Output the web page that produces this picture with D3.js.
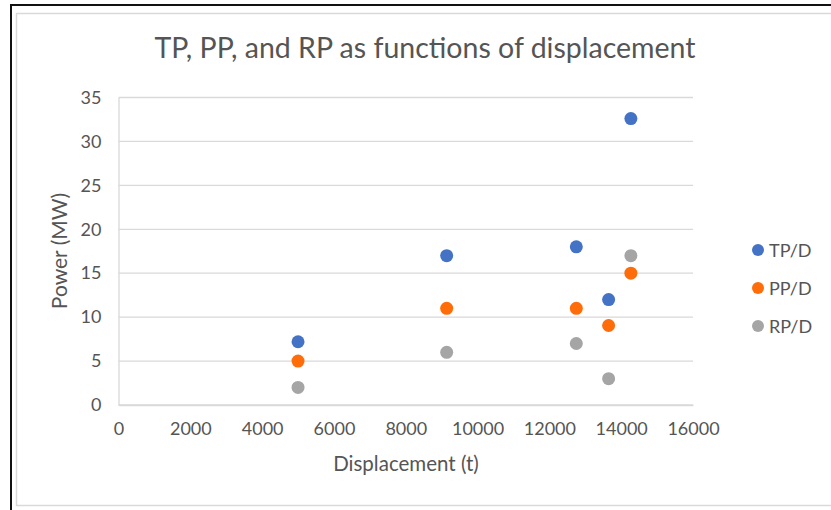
<!DOCTYPE html>
<html>
<head>
<meta charset="utf-8">
<script src="https://cdn.jsdelivr.net/npm/d3@7"></script>
<style>
  body { margin: 0; background: #fff; }
  text { font-family: Lato, "Open Sans", sans-serif; fill: #555; }
</style>
</head>
<body>
<div id="graphic"></div>
<script>
// displacement (t) of each ship
var displacement = [5000, 9140, 12750, 13650, 14270];
// power per series (MW)
var tpValues = [7.2, 17, 18, 12, 32.6];
var ppValues = [5, 11, 11, 9.05, 15];
var rpValues = [2, 6, 7, 3, 17];

var seriesNames = ["TP/D", "PP/D", "RP/D"];
var seriesColors = ["#4472C4", "#FF6D0A", "#A5A5A5"];
var xTicks = [0, 2000, 4000, 6000, 8000, 10000, 12000, 14000, 16000];
var yTicks = [0, 5, 10, 15, 20, 25, 30, 35];

var w = 831, h = 510;

var svg = d3.select("#graphic")
    .append("svg")
    .attr("width", w)
    .attr("height", h);

// outer frame: black on top/left, light gray inner border
svg.append("line").attr("x1", 11).attr("y1", 5).attr("x2", 831).attr("y2", 5)
   .attr("stroke", "#111").attr("stroke-width", 2);
svg.append("line").attr("x1", 11).attr("y1", 4).attr("x2", 11).attr("y2", 510)
   .attr("stroke", "#111").attr("stroke-width", 2);
svg.append("rect").attr("x", 16.5).attr("y", 13.5).attr("width", 830).attr("height", 492)
   .attr("fill", "none").attr("stroke", "#D9D9D9").attr("stroke-width", 1.5);

var xScale = d3.scaleLinear().domain([0, 16000]).range([118.5, 693]);
var yScale = d3.scaleLinear().domain([0, 35]).range([405, 97.5]);

// gridlines
svg.append("g")
   .selectAll("line")
   .data(yTicks)
   .enter()
   .append("line")
   .attr("x1", xScale(0))
   .attr("x2", xScale(16000))
   .attr("y1", function(d){ return yScale(d); })
   .attr("y2", function(d){ return yScale(d); })
   .attr("stroke", "#D9D9D9")
   .attr("stroke-width", 1.3);

// axes
var xAxis = svg.append("g")
   .attr("transform", "translate(0," + yScale(0) + ")")
   .call(d3.axisBottom(xScale).tickValues(xTicks).tickSize(0).tickPadding(17).tickFormat(d3.format("d")));
xAxis.select(".domain").attr("stroke", "#D9D9D9").attr("stroke-width", 1.3);

var yAxis = svg.append("g")
   .attr("transform", "translate(" + xScale(0) + ",0)")
   .call(d3.axisLeft(yScale).tickValues(yTicks).tickSize(0).tickPadding(17));
yAxis.select(".domain").attr("stroke", "#D9D9D9").attr("stroke-width", 1.3);

svg.selectAll(".tick text")
   .attr("font-family", "Lato, sans-serif")
   .attr("font-size", 18)
   .attr("fill", "#555");

// title and axis titles
svg.append("text")
   .attr("x", 425).attr("y", 58)
   .attr("text-anchor", "middle")
   .attr("font-size", 28.5)
   .text("TP, PP, and RP as functions of displacement");

svg.append("text")
   .attr("x", 406).attr("y", 471)
   .attr("text-anchor", "middle")
   .attr("font-size", 20.5)
   .text("Displacement (t)");

svg.append("text")
   .attr("transform", "translate(67,251) rotate(-90)")
   .attr("text-anchor", "middle")
   .attr("font-size", 21)
   .text("Power (MW)");

// points
var allSeries = [tpValues, ppValues, rpValues];
allSeries.forEach(function(values, i){
    svg.append("g")
       .selectAll("circle")
       .data(values)
       .enter()
       .append("circle")
       .attr("cx", function(d, j){ return xScale(displacement[j]); })
       .attr("cy", function(d){ return yScale(d); })
       .attr("r", 6.5)
       .attr("fill", seriesColors[i]);
});

// legend
var legend = svg.append("g")
   .selectAll("g")
   .data(seriesNames)
   .enter()
   .append("g")
   .attr("transform", function(d, i){ return "translate(758," + (250 + i * 38) + ")"; });
legend.append("circle")
   .attr("r", 6)
   .attr("fill", function(d, i){ return seriesColors[i]; });
legend.append("text")
   .attr("x", 11)
   .attr("y", 6.5)
   .attr("font-size", 18)
   .text(function(d){ return d; });
</script>
</body>
</html>
